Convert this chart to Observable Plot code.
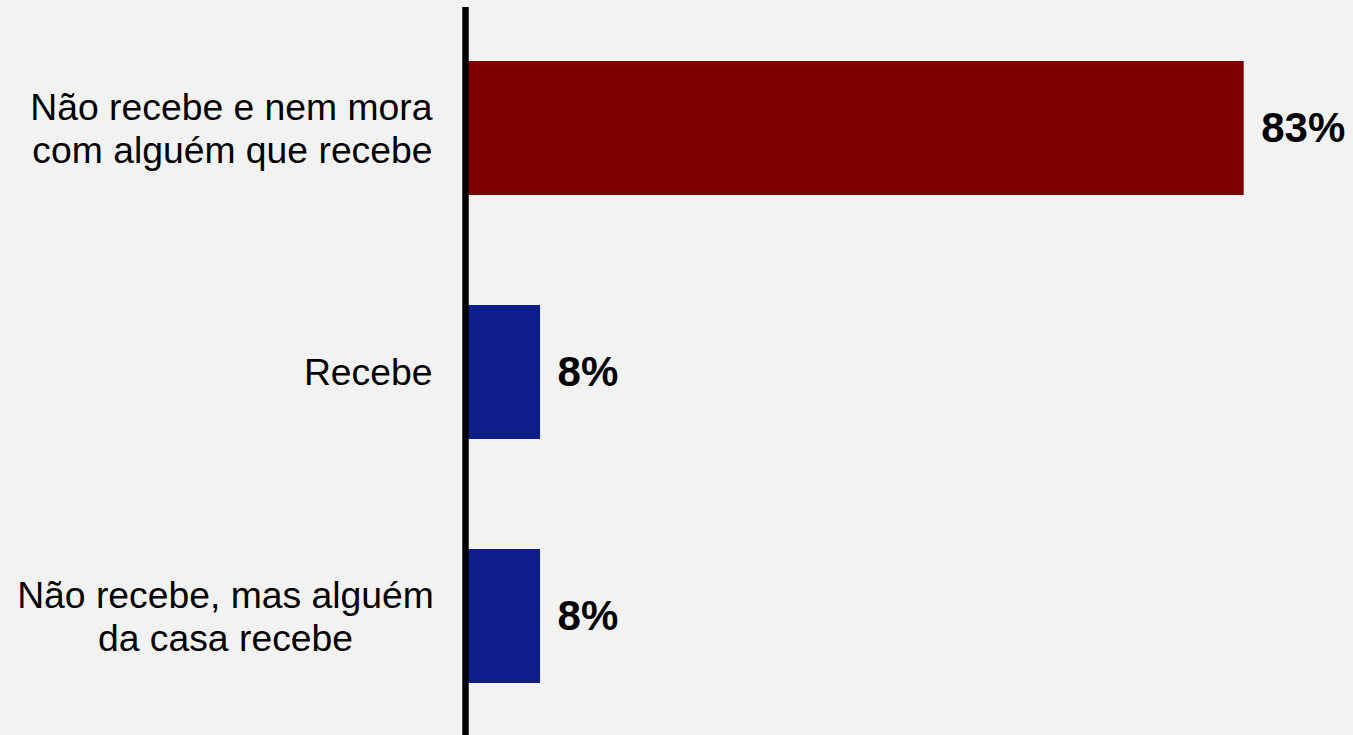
<!DOCTYPE html>
<html>
<head>
<meta charset="utf-8">
<script src="https://cdn.jsdelivr.net/npm/d3@7"></script>
<script src="https://cdn.jsdelivr.net/npm/@observablehq/plot@0.6"></script>
<style>
  html, body { margin: 0; padding: 0; background: #f2f2f2; }
  #chart svg { display: block; }
</style>
</head>
<body>
<div id="chart"></div>
<script>
const categories = [
  "Não recebe e nem mora\ncom alguém que recebe",
  "Recebe",
  "Não recebe, mas alguém\nda casa recebe"
];
const values = [83, 8, 8];
const valueLabels = ["83%", "8%", "8%"];

const data = categories.map((c, i) => ({category: c, value: values[i], label: valueLabels[i]}));

const chart = Plot.plot({
  width: 1353,
  height: 735,
  marginTop: 7,
  marginBottom: 0,
  marginLeft: 0,
  marginRight: 0,
  style: {background: "#f2f2f2", fontFamily: "'Liberation Sans', Arial, sans-serif"},
  x: {domain: [0, 83], range: [465, 1243.7], axis: null},
  y: {domain: categories, range: [6, 738], paddingInner: 0.45, paddingOuter: 0.225, axis: null},
  color: {domain: categories, range: ["#800000", "#0d1e8b", "#0d1e8b"]},
  marks: [
    Plot.barX(data, {x: "value", y: "category", fill: "category"}),
    Plot.ruleX([0], {stroke: "#000", strokeWidth: 6.5}),
    Plot.text(data, {x: "value", y: "category", text: "label", textAnchor: "start", dx: 17, fontSize: 42, fontWeight: "bold", fill: "#000"}),
    Plot.text(data.filter((d, i) => i < 2), {x: 0, y: "category", text: "category", textAnchor: "end", dx: -33, dy: -1, fontSize: 37.3, lineHeight: 1.15, fill: "#000"}),
    Plot.text(data.filter((d, i) => i === 2), {x: 0, y: "category", text: "category", textAnchor: "middle", dx: -240, dy: -1, fontSize: 37.3, lineHeight: 1.15, fill: "#000"})
  ]
});
document.getElementById("chart").appendChild(chart);
</script>
</body>
</html>
